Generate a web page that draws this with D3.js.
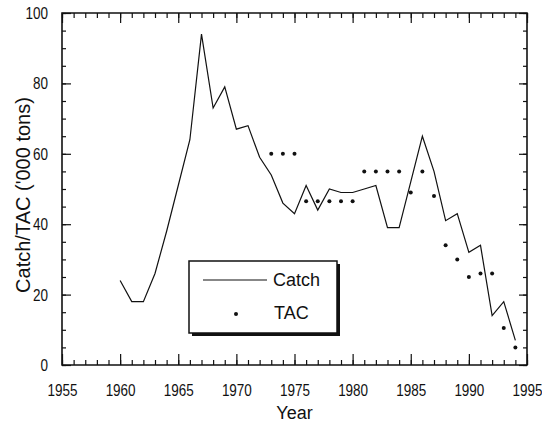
<!DOCTYPE html>
<html>
<head>
<meta charset="utf-8">
<script src="https://cdn.jsdelivr.net/npm/d3@7"></script>
<style>
  body { margin: 0; background: #fff; }
  svg { font-family: "Liberation Sans", Arial, Helvetica, sans-serif; }
  .domain { display: none; }
</style>
</head>
<body>
<svg id="chart" width="542" height="424"></svg>
<script>
// Catch per year, 1960-1994 ('000 tons)
const catchYears = d3.range(1960, 1995);
const catchValues = [24, 18, 18, 26, 38, 51, 64, 94, 73, 79, 67, 68, 59, 54, 46, 43, 51, 44,
    50, 49, 49, 50, 51, 39, 39, 52, 65, 55, 41, 43, 32, 34, 14, 18, 7];

// TAC per year, 1973-1994
const tacYears = d3.range(1973, 1995);
const tacValues = [60, 60, 60, 46.5, 46.5, 46.5, 46.5, 46.5, 55, 55, 55, 55, 49, 55, 48,
    34, 30, 25, 26, 26, 10.5, 5];

const xTicks = [1955, 1960, 1965, 1970, 1975, 1980, 1985, 1990, 1995];
const yTicks = [0, 20, 40, 60, 80, 100];

const svg = d3.select("#chart");
const plot = { left: 62, right: 527, top: 13, bottom: 365 };

const x = d3.scaleLinear().domain([1955, 1995]).range([plot.left, plot.right]);
const y = d3.scaleLinear().domain([0, 100]).range([plot.bottom, plot.top]);

// frame first, so nothing inside it gets covered
svg.append("path")
    .attr("d", `M${plot.left},${plot.top}H${plot.right}V${plot.bottom}H${plot.left}Z`)
    .attr("fill", "none")
    .attr("stroke", "#111")
    .attr("stroke-width", 1.6);

// condensed digits like the scanned figure
function squeeze(sel, perChar) {
    sel.selectAll("text")
        .attr("textLength", function () { return this.textContent.length * perChar; })
        .attr("lengthAdjust", "spacingAndGlyphs");
}

// Bottom axis: minor yearly ticks, then major ticks with labels (all pointing inward)
svg.append("g")
    .attr("transform", `translate(0,${plot.bottom})`)
    .call(d3.axisBottom(x).tickValues(d3.range(1955, 1996)).tickSize(-5).tickFormat(""));
const xAxis = svg.append("g")
    .attr("transform", `translate(0,${plot.bottom})`)
    .call(d3.axisBottom(x).tickValues(xTicks).tickSize(-11).tickPadding(19).tickFormat(d3.format("d")));
xAxis.selectAll("text").style("font-size", "17px").attr("fill", "#111");
squeeze(xAxis, 7.5);

// Top axis ticks
svg.append("g")
    .attr("transform", `translate(0,${plot.top})`)
    .call(d3.axisTop(x).tickValues(d3.range(1955, 1996)).tickSize(-5).tickFormat(""));
svg.append("g")
    .attr("transform", `translate(0,${plot.top})`)
    .call(d3.axisTop(x).tickValues(xTicks).tickSize(-10).tickFormat(""));

// Left axis
svg.append("g")
    .attr("transform", `translate(${plot.left},0)`)
    .call(d3.axisLeft(y).tickValues(d3.range(0, 101, 5)).tickSize(-4).tickFormat(""));
const yAxis = svg.append("g")
    .attr("transform", `translate(${plot.left},0)`)
    .call(d3.axisLeft(y).tickValues(yTicks).tickSize(-9).tickPadding(14));
yAxis.selectAll("text").style("font-size", "17px").attr("fill", "#111");
squeeze(yAxis, 7.5);

// Right axis ticks
svg.append("g")
    .attr("transform", `translate(${plot.right},0)`)
    .call(d3.axisRight(y).tickValues(d3.range(0, 101, 5)).tickSize(-4).tickFormat(""));
svg.append("g")
    .attr("transform", `translate(${plot.right},0)`)
    .call(d3.axisRight(y).tickValues(yTicks).tickSize(-8).tickFormat(""));

svg.selectAll(".tick line").attr("stroke", "#111").attr("stroke-width", 1.2);

// Catch line
const catchLine = d3.line()
    .x((d, i) => x(catchYears[i]))
    .y((d) => y(d));
svg.append("path")
    .datum(catchValues)
    .attr("d", catchLine)
    .attr("fill", "none")
    .attr("stroke", "#111")
    .attr("stroke-width", 1.2);

// TAC dots
svg.append("g")
    .selectAll("circle")
    .data(tacValues)
    .join("circle")
    .attr("cx", (d, i) => x(tacYears[i]))
    .attr("cy", (d) => y(d))
    .attr("r", 2)
    .attr("fill", "#111");

// axis titles
svg.append("text")
    .attr("x", (plot.left + plot.right) / 2)
    .attr("y", 419)
    .attr("text-anchor", "middle")
    .style("font-size", "18px")
    .attr("fill", "#111")
    .text("Year");

svg.append("text")
    .attr("transform", "translate(30,195) rotate(-90)")
    .attr("text-anchor", "middle")
    .style("font-size", "20px")
    .attr("fill", "#111")
    .text("Catch/TAC ('000 tons)");

// Legend with drop shadow
const legend = svg.append("g");
legend.append("rect")
    .attr("x", 192).attr("y", 264).attr("width", 148).attr("height", 72)
    .attr("fill", "#111");
legend.append("rect")
    .attr("x", 189).attr("y", 261).attr("width", 148).attr("height", 72)
    .attr("fill", "#fff").attr("stroke", "#111").attr("stroke-width", 1.5);
legend.append("line")
    .attr("x1", 203).attr("x2", 267).attr("y1", 280).attr("y2", 280)
    .attr("stroke", "#111").attr("stroke-width", 1.2);
legend.append("circle")
    .attr("cx", 236).attr("cy", 314).attr("r", 2).attr("fill", "#111");
legend.append("text")
    .attr("x", 273).attr("y", 286)
    .style("font-size", "18px").attr("fill", "#111")
    .text("Catch");
legend.append("text")
    .attr("x", 274).attr("y", 319)
    .style("font-size", "18px").attr("fill", "#111")
    .text("TAC");
</script>
</body>
</html>
